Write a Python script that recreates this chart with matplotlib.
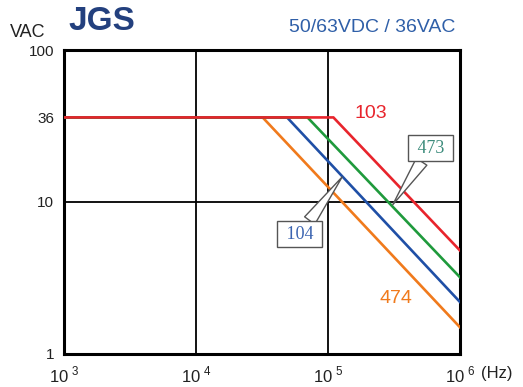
import numpy as np
import matplotlib
matplotlib.use("Agg")
import matplotlib.pyplot as plt

plt.rcParams['font.family'] = ['Liberation Sans', 'DejaVu Sans']
plt.rcParams['mathtext.fontset'] = 'custom'
plt.rcParams['mathtext.rm'] = 'Liberation Sans'

# curve data: flat at 36 VAC, then roll off to the value at 1 MHz
series = ["103", "473", "104", "474"]
knee_hz = [1.1e5, 7.0e4, 4.9e4, 3.2e4]
end_vac = [4.8, 3.2, 2.2, 1.5]
flat_vac = 36
colors = ["#e8242c", "#1f9a3c", "#1f4fa6", "#f07a1c"]

yticks = [1, 10, 36, 100]
xticks = [1e3, 1e4, 1e5, 1e6]
xlabels = ["$10^{\\ 3}$", "$10^{\\ 4}$", "$10^{\\ 5}$", "$10^{\\ 6}$"]

fig = plt.figure(figsize=(5.23, 3.87), dpi=100)
ax = fig.add_axes([0.1224, 0.0853, 0.757, 0.7855])
ax.set_xscale("log")
ax.set_yscale("log")
ax.set_xlim(1e3, 1e6)
ax.set_ylim(1, 100)

# grid lines
for gx in [1e4, 1e5]:
    ax.axvline(gx, color="black", lw=1.3, zorder=1)
ax.axhline(10, color="black", lw=1.3, zorder=1)

# draw 474 first so 103 sits on top of the shared flat part
for i in range(len(series) - 1, -1, -1):
    ax.plot([1e3, knee_hz[i], 1e6], [flat_vac, flat_vac, end_vac[i]], color=colors[i],
            lw=1.9, zorder=3, solid_joinstyle="miter")

ax.set_xticks(xticks)
ax.set_xticklabels(xlabels)
ax.set_yticks(yticks)
ax.set_yticklabels([str(v) for v in yticks])
ax.minorticks_off()
ax.tick_params(length=0, colors="#222222")
ax.tick_params(axis="x", pad=8, labelsize=12)
ax.tick_params(axis="y", pad=7, labelsize=11)
for s in ax.spines.values():
    s.set_linewidth(2.2)

# labels on curves
ax.text(2.1e5, 38.5, "103", color=colors[0], fontsize=14, ha="center", va="center")
ax.text(3.3e5, 2.33, "474", color=colors[3], fontsize=14, ha="center", va="center")

box = dict(boxstyle="square,pad=0.25", fc="white", ec="#555555", lw=1)
ax.annotate(" 473 ", xy=(3.1e5, 9.6), xytext=(6.0e5, 22.6), ha="center", va="center",
            color="#3d8c7c", fontsize=13, family="Liberation Serif", bbox=box, zorder=5,
            arrowprops=dict(arrowstyle="wedge,tail_width=0.7", fc="white", ec="#555555",
                            lw=1, shrinkA=0, shrinkB=0))
ax.annotate(" 104 ", xy=(1.28e5, 14.6), xytext=(6.1e4, 6.15), ha="center", va="center",
            color="#3a63b0", fontsize=13, family="Liberation Serif", bbox=box, zorder=5,
            arrowprops=dict(arrowstyle="wedge,tail_width=0.7", fc="white", ec="#555555",
                            lw=1, shrinkA=0, shrinkB=0))

# header texts
fig.text(0.019, 0.915, "VAC", fontsize=13, color="#222222", va="center")
fig.text(0.13, 0.945, "JGS", fontsize=24, fontweight="bold", color="#23407e", va="center")
fig.text(0.711, 0.93, "50/63VDC / 36VAC", fontsize=14, color="#2f5fa8", va="center", ha="center")
fig.text(0.92, 0.035, "(Hz)", fontsize=12, color="#222222", va="center")

fig.savefig("out.png", dpi=100)
